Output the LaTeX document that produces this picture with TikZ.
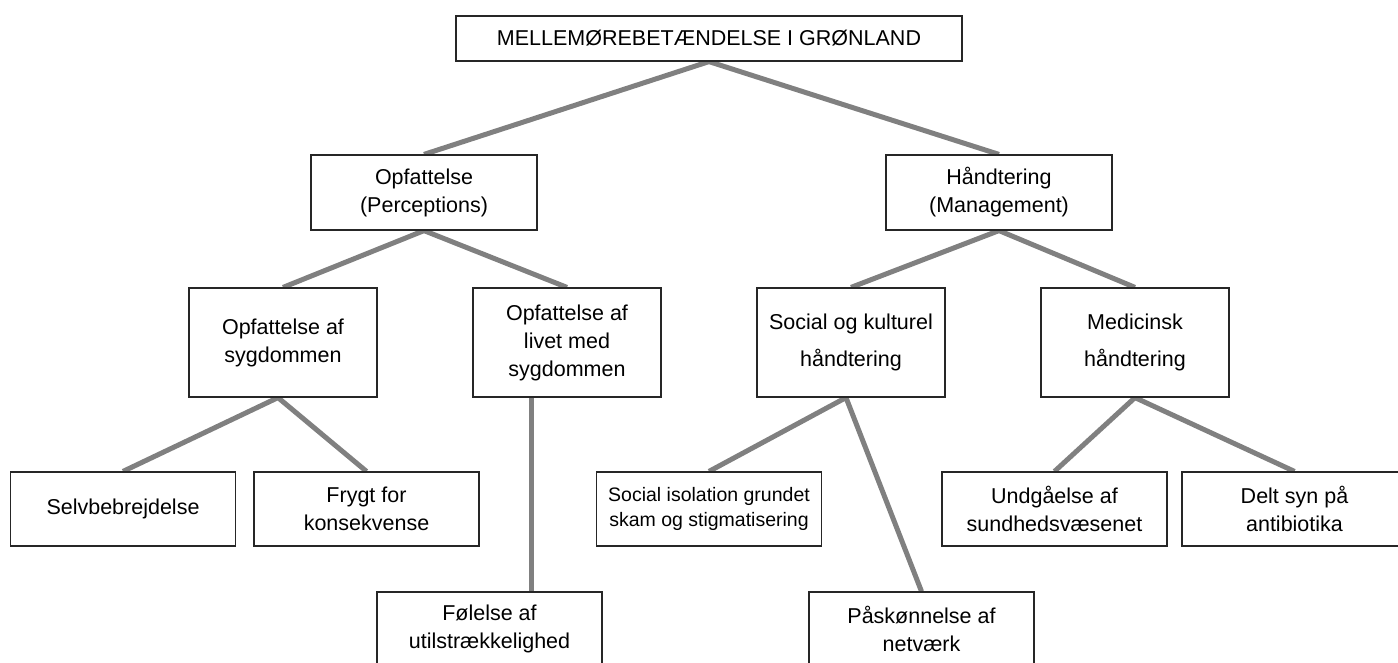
\documentclass[tikz,border=0pt]{standalone}
\usepackage{fontspec}
\setmainfont{Liberation Sans}
\usetikzlibrary{backgrounds}
\definecolor{linkgray}{RGB}{128,128,128}
\tikzset{
  box/.style={draw=black!85, line width=1.2pt, fill=white, inner sep=0pt, align=center, font=\fontsize{21.5}{28}\selectfont},
  lvla/.style={box, minimum width=226pt, minimum height=75pt},
  lvlb/.style={box, minimum width=188pt, minimum height=109pt},
  lvlc/.style={box, minimum width=225pt, minimum height=74pt},
  wide/.style={font=\fontsize{21.5}{37}\selectfont},
  small/.style={font=\fontsize{19.5}{25}\selectfont},
  link/.style={draw=linkgray, line width=5pt}
}

\begin{document}
\begin{tikzpicture}[x=1pt,y=-1pt]
\useasboundingbox (0,0) rectangle (1398,662);
\clip (0,0) rectangle (1398,662);
\node[box, minimum width=506pt, minimum height=45pt] (top) at (709,38.5) {MELLEMØREBETÆNDELSE I GRØNLAND};
\node[lvla] (opf) at (424,192.5) {Opfattelse\\(Perceptions)};
\node[lvla] (hand) at (999,192.5) {Håndtering\\(Management)};
\node[lvlb] (opfa) at (283,342.5) {Opfattelse af\\sygdommen};
\node[lvlb] (opfb) at (567,342.5) {Opfattelse af\\livet med\\sygdommen};
\node[lvlb, wide] (hsoc) at (851,342.5) {Social og kulturel\\håndtering};
\node[lvlb, wide] (hmed) at (1135,342.5) {Medicinsk\\håndtering};
\node[lvlc] (selv) at (123,509) {Selvbebrejdelse};
\node[lvlc] (fryg) at (366.5,509) {Frygt for\\konsekvense};
\node[lvlc, small] (iso) at (709,509) {Social isolation grundet\\skam og stigmatisering};
\node[lvlc] (undg) at (1054.5,509) {Undgåelse af\\sundhedsvæsenet};
\node[lvlc] (delt) at (1294.5,509) {Delt syn på\\antibiotika};
\node[lvlc] (fol) at (489.5,629) {Følelse af\\utilstrækkelighed};
\node[lvlc] (pask) at (921.5,629) {Påskønnelse af\\netværk};
\coordinate (folx) at (531,0);
\begin{scope}[on background layer]
\draw[link] (top.south) -- (opf.north);
\draw[link] (top.south) -- (hand.north);
\draw[link] (opf.south) -- (opfa.north);
\draw[link] (opf.south) -- (opfb.north);
\draw[link] (hand.south) -- (hsoc.north);
\draw[link] (hand.south) -- (hmed.north);
\draw[link] ([xshift=-5pt]opfa.south) -- (selv.north);
\draw[link] ([xshift=-5pt]opfa.south) -- (fryg.north);
\draw[link] (opfb.south -| folx) -- (fol.north -| folx);
\draw[link] ([xshift=-5pt]hsoc.south) -- (iso.north);
\draw[link] ([xshift=-5pt]hsoc.south) -- (pask.north);
\draw[link] (hmed.south) -- (undg.north);
\draw[link] (hmed.south) -- (delt.north);
\end{scope}
\end{tikzpicture}
\end{document}
